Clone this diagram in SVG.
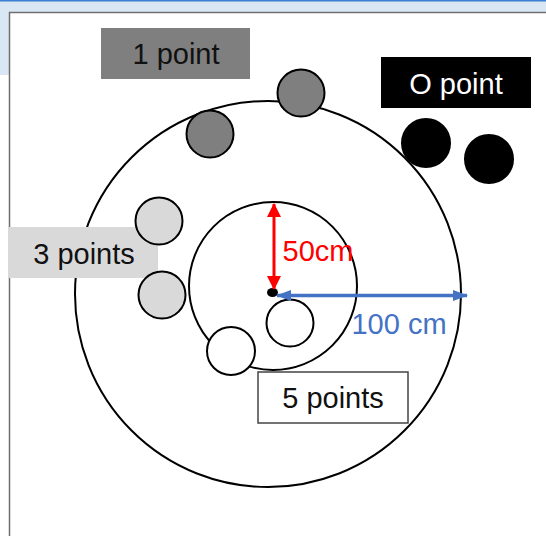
<svg xmlns="http://www.w3.org/2000/svg" width="546" height="536" viewBox="0 0 546 536">
  <style>
    .lbl { font-family: "Liberation Sans", Arial, sans-serif; font-size: 29px; text-anchor: middle; }
    .ring { fill: none; stroke: #000; stroke-width: 2; }
    .disc { stroke: #000; stroke-width: 2; }
    .c0 { fill: #000; }
    .c1 { fill: #7f7f7f; }
    .c3 { fill: #d9d9d9; }
    .c5 { fill: #fff; }
  </style>
  <defs>
    <marker id="redHead" markerUnits="userSpaceOnUse" markerWidth="14" markerHeight="14" refX="13" refY="7" orient="auto-start-reverse" viewBox="0 0 14 14">
      <path d="M0,0 L14,7 L0,14 Z" fill="#ff0000"/>
    </marker>
    <marker id="blueHead" markerUnits="userSpaceOnUse" markerWidth="15" markerHeight="11" refX="14" refY="5.5" orient="auto-start-reverse" viewBox="0 0 15 11">
      <path d="M0,0 L15,5.5 L0,11 Z" fill="#4472c4"/>
    </marker>
  </defs>

  <!-- window chrome -->
  <rect x="0" y="0" width="546" height="536" fill="#fff"/>
  <rect x="0" y="0" width="546" height="12" fill="#d9e7f5"/>
  <rect x="0" y="0" width="9" height="75" fill="#d9e7f5"/>
  <rect x="0" y="0" width="546" height="1.5" fill="#3a7fd0"/>
  <path d="M9.5,536 V12.5 H546" fill="none" stroke="#6f6f6f" stroke-width="1.5"/>

  <!-- target rings -->
  <g id="outer-ring"><circle class="ring" cx="268" cy="294" r="193"/></g>
  <g id="inner-ring"><circle class="ring" cx="273" cy="286" r="84"/></g>

  <!-- labels -->
  <g id="label-1point">
    <rect x="101" y="28" width="149" height="51" fill="#7f7f7f"/>
    <text class="lbl" x="176" y="64" fill="#111">1 point</text>
  </g>
  <g id="label-0point">
    <rect x="381" y="57" width="150" height="51" fill="#000"/>
    <text class="lbl" x="456" y="94" fill="#fff">O point</text>
  </g>
  <g id="label-3points">
    <rect x="8" y="227" width="150" height="51" fill="#d9d9d9"/>
    <text class="lbl" x="84" y="264" fill="#111">3 points</text>
  </g>
  <g id="label-5points">
    <rect x="258" y="372" width="150" height="51" fill="#fff" stroke="#444" stroke-width="1.5"/>
    <text class="lbl" x="333" y="408" fill="#111">5 points</text>
  </g>

  <!-- discs -->
  <g id="disc-1a"><circle class="disc c1" cx="301" cy="93" r="23.5"/></g>
  <g id="disc-1b"><circle class="disc c1" cx="210" cy="134" r="23.5"/></g>
  <g id="disc-0a"><circle class="disc c0" cx="426" cy="143" r="24"/></g>
  <g id="disc-0b"><circle class="disc c0" cx="489" cy="159" r="24"/></g>
  <g id="disc-3a"><circle class="disc c3" cx="159" cy="221" r="23.5"/></g>
  <g id="disc-3b"><circle class="disc c3" cx="162" cy="295" r="23.5"/></g>
  <g id="disc-5a"><circle class="disc c5" cx="290" cy="323" r="23.5"/></g>
  <g id="disc-5b"><circle class="disc c5" cx="231" cy="351" r="24"/></g>

  <!-- center -->
  <g id="center"><ellipse cx="272.5" cy="292.5" rx="5.5" ry="4.5" fill="#000"/></g>

  <!-- measurement arrows -->
  <g id="connectors">
    <line x1="274" y1="204" x2="274" y2="289" stroke="#ff0000" stroke-width="3" marker-start="url(#redHead)" marker-end="url(#redHead)"/>
    <line x1="277" y1="295.5" x2="467" y2="295.5" stroke="#4472c4" stroke-width="3.5" marker-start="url(#blueHead)" marker-end="url(#blueHead)"/>
  </g>
  <g id="dim-labels">
    <text class="lbl" x="318" y="261" fill="#ff0000">50cm</text>
    <text class="lbl" x="399" y="334" fill="#4472c4">100 cm</text>
  </g>
</svg>
